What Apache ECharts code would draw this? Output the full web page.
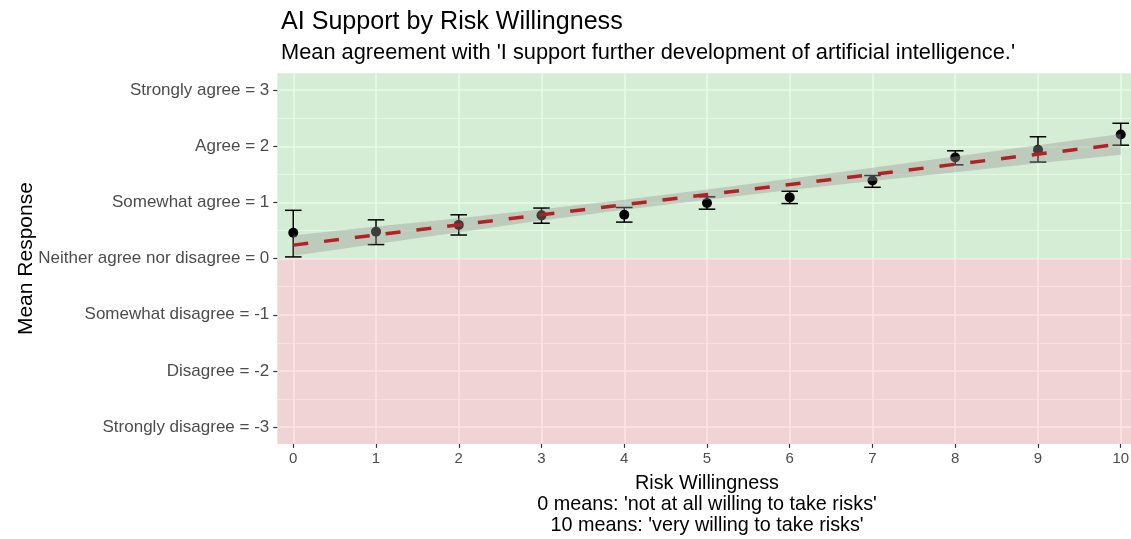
<!DOCTYPE html>
<html>
<head>
<meta charset="utf-8">
<script src="https://cdn.jsdelivr.net/npm/echarts@6/dist/echarts.min.js"></script>
<style>
html,body{margin:0;padding:0;background:#fff;}
#chart{width:1131px;height:539px;}
</style>
</head>
<body>
<div id="chart"></div>
<script>
// ---- data ----
const riskLevels = [0, 1, 2, 3, 4, 5, 6, 7, 8, 9, 10];
const meanValues = [0.46, 0.48, 0.60, 0.77, 0.78, 0.99, 1.09, 1.39, 1.80, 1.94, 2.21];
const ciLower    = [0.03, 0.25, 0.42, 0.63, 0.65, 0.88, 0.98, 1.27, 1.67, 1.72, 2.02];
const ciUpper    = [0.86, 0.69, 0.78, 0.90, 0.91, 1.10, 1.20, 1.48, 1.92, 2.17, 2.41];

const trendX = [0, 10];
const trendY = [0.24, 2.04];
const bandLower = [0.05, 0.26, 0.47, 0.68, 0.87, 1.05, 1.22, 1.38, 1.54, 1.70, 1.85];
const bandUpper = [0.41, 0.57, 0.72, 0.88, 1.05, 1.23, 1.42, 1.62, 1.82, 2.02, 2.22];

const xTickValues = [0, 1, 2, 3, 4, 5, 6, 7, 8, 9, 10];
const yTickValues = [-3, -2, -1, 0, 1, 2, 3];
const yTickLabels = ['Strongly disagree = -3', 'Disagree = -2', 'Somewhat disagree = -1',
  'Neither agree nor disagree = 0', 'Somewhat agree = 1', 'Agree = 2', 'Strongly agree = 3'];
const yMinorValues = [-2.5, -1.5, -0.5, 0.5, 1.5, 2.5];

const xMin = -0.193, xMax = 10.193;
const yMin = -3.3, yMax = 3.3;

const FONT = 'Liberation Sans';

const chart = echarts.init(document.getElementById('chart'), null, {renderer: 'canvas'});

const bandData = riskLevels.map((x, i) => [x, bandLower[i], bandUpper[i]]);

const option = {
  animation: false,
  textStyle: {fontFamily: FONT},
  title: [
    {text: 'AI Support by Risk Willingness', left: 276, top: 5,
     textStyle: {fontFamily: FONT, fontSize: 25.1, fontWeight: 'normal', color: '#000'}},
    {text: "Mean agreement with 'I support further development of artificial intelligence.'", left: 276, top: 37,
     textStyle: {fontFamily: FONT, fontSize: 21.8, fontWeight: 'normal', color: '#000'}}
  ],
  grid: {
    left: 277.3, top: 73.3, right: -5.7, bottom: 95.1,
    show: true, backgroundColor: '#EBEBEB', borderWidth: 0,
    containLabel: false, outerBoundsMode: 'none'
  },
  xAxis: {
    type: 'value', min: xMin, max: xMax,
    name: "Risk Willingness\n0 means: 'not at all willing to take risks'\n10 means: 'very willing to take risks'",
    nameLocation: 'middle', nameGap: 29, nameMoveOverlap: false,
    nameTextStyle: {fontFamily: FONT, fontSize: 19.8, color: '#000', lineHeight: 21},
    axisLine: {show: false, onZero: false},
    axisTick: {show: true, customValues: xTickValues, length: 4, lineStyle: {color: '#333', width: 1.2}},
    axisLabel: {show: true, customValues: xTickValues, color: '#4D4D4D', fontSize: 15, margin: 7, fontFamily: FONT},
    splitLine: {show: true, lineStyle: {color: '#FFFFFF', width: 1.5}}
  },
  yAxis: [
    {
      type: 'value', min: yMin, max: yMax,
      name: 'Mean Response', nameLocation: 'middle', nameGap: 241, nameRotate: 90, nameMoveOverlap: false,
      nameTextStyle: {fontFamily: FONT, fontSize: 21, color: '#000'},
      axisLine: {show: false, onZero: false},
      axisTick: {show: true, customValues: yTickValues, length: 4, lineStyle: {color: '#333', width: 1.2}},
      axisLabel: {show: true, customValues: yTickValues, color: '#4D4D4D', fontSize: 17, margin: 8,
        fontFamily: FONT,
        formatter: function (v) { const i = yTickValues.indexOf(v); return i >= 0 ? yTickLabels[i] : ''; }},
      splitLine: {show: true, lineStyle: {color: '#FFFFFF', width: 1.5}}
    },
    {
      type: 'value', min: yMin, max: yMax, position: 'left',
      axisLine: {show: false, onZero: false},
      axisTick: {show: false, customValues: yMinorValues},
      axisLabel: {show: false, customValues: yMinorValues},
      splitLine: {show: true, lineStyle: {color: '#FFFFFF', width: 0.8}}
    }
  ],
  series: [
    {
      name: 'zones', type: 'line', data: [], z: 1, silent: true,
      markArea: {
        silent: true,
        label: {show: false},
        data: [
          [{yAxis: 0, itemStyle: {color: 'rgba(120,245,120,0.2)'}}, {yAxis: yMax}],
          [{yAxis: yMin, itemStyle: {color: 'rgba(255,115,125,0.2)'}}, {yAxis: 0}]
        ]
      }
    },
    {
      name: 'mean', type: 'scatter', z: 2,
      data: riskLevels.map((x, i) => [x, meanValues[i]]),
      symbol: 'circle', symbolSize: 10,
      itemStyle: {color: '#000', opacity: 1}
    },
    {
      name: 'errorbars', type: 'custom', z: 3,
      data: riskLevels.map((x, i) => [x, ciLower[i], ciUpper[i]]),
      encode: {x: 0, y: [1, 2]},
      renderItem: function (params, api) {
        const x = api.value(0);
        const lo = api.coord([x, api.value(1)]);
        const hi = api.coord([x, api.value(2)]);
        const half = api.size([0.2, 0])[0] / 2;
        const st = {stroke: '#000', lineWidth: 1.5};
        return {
          type: 'group',
          children: [
            {type: 'line', shape: {x1: lo[0], y1: lo[1], x2: hi[0], y2: hi[1]}, style: st},
            {type: 'line', shape: {x1: hi[0] - half, y1: hi[1], x2: hi[0] + half, y2: hi[1]}, style: st},
            {type: 'line', shape: {x1: lo[0] - half, y1: lo[1], x2: lo[0] + half, y2: lo[1]}, style: st}
          ]
        };
      }
    },
    {
      name: 'band', type: 'custom', z: 4, silent: true,
      data: bandData,
      encode: {x: 0, y: [1, 2]},
      renderItem: function (params, api) {
        if (params.dataIndex !== 0) return null;
        const upper = bandData.map(d => api.coord([d[0], d[2]]));
        const lower = bandData.map(d => api.coord([d[0], d[1]])).reverse();
        return {
          type: 'polygon',
          shape: {points: upper.concat(lower)},
          style: {fill: 'rgba(153,153,153,0.4)', stroke: null}
        };
      }
    },
    {
      name: 'trend', type: 'line', z: 5, symbol: 'none', silent: true,
      data: trendX.map((x, i) => [x, trendY[i]]),
      lineStyle: {color: '#B22222', width: 3.5, type: [15, 16], cap: 'butt'}
    }
  ]
};
chart.setOption(option);
</script>
</body>
</html>
